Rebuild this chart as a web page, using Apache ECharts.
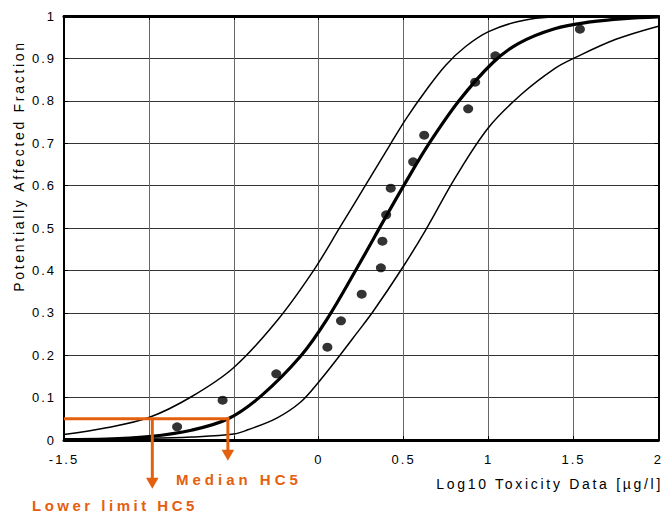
<!DOCTYPE html>
<html>
<head>
<meta charset="utf-8">
<script src="https://cdn.jsdelivr.net/npm/echarts@6/dist/echarts.min.js"></script>
<style>
  html, body { margin: 0; padding: 0; background: #fff; }
  #main { width: 665px; height: 513px; }
</style>
</head>
<body>
<div id="main"></div>
<script>
// ---- data ----
const medianX = [-1.5, -1.25, -1, -0.75, -0.533, -0.339, -0.106, 0.049, 0.243, 0.379, 0.515, 0.651, 0.826, 1.02, 1.175, 1.389, 1.6, 1.8, 2];
const medianY = [0.001, 0.002, 0.008, 0.023, 0.05, 0.104, 0.198, 0.285, 0.418, 0.515, 0.61, 0.70, 0.80, 0.888, 0.935, 0.97, 0.986, 0.994, 0.998];

const upperX = [-1.5, -1.25, -1, -0.75, -0.5, -0.242, -0.03, 0.127, 0.282, 0.418, 0.515, 0.632, 0.748, 0.865, 1.0, 1.175, 1.389, 1.7, 2];
const upperY = [0.013, 0.029, 0.053, 0.102, 0.171, 0.283, 0.40, 0.503, 0.605, 0.695, 0.758, 0.825, 0.884, 0.928, 0.963, 0.987, 0.998, 1.0, 1.0];

const lowerX = [-1.5, -1, -0.75, -0.5, -0.417, -0.25, -0.108, 0, 0.125, 0.224, 0.32, 0.496, 0.632, 0.806, 1.0, 1.195, 1.389, 1.5, 1.75, 2];
const lowerY = [0.002, 0.004, 0.007, 0.014, 0.024, 0.051, 0.089, 0.137, 0.2, 0.252, 0.303, 0.408, 0.497, 0.62, 0.737, 0.816, 0.876, 0.90, 0.945, 0.976];

const toxicityLog = [-0.834, -0.566, -0.25, 0.051, 0.131, 0.253, 0.366, 0.375, 0.397, 0.424, 0.556, 0.621, 0.880, 0.921, 1.040, 1.538];
const toxicityFraction = [0.031, 0.094, 0.156, 0.219, 0.281, 0.344, 0.406, 0.469, 0.531, 0.594, 0.656, 0.719, 0.781, 0.844, 0.906, 0.969];

const hcLevel = 0.05;
const medianHC5 = -0.535;
const lowerHC5 = -0.98;

const xTickLabels = ['-1.5', '0', '0.5', '1', '1.5', '2'];
const yTickLabels = ['0', '0.1', '0.2', '0.3', '0.4', '0.5', '0.6', '0.7', '0.8', '0.9', '1'];

const xTitle = 'Log10 Toxicity Data [µg/l]';
const yTitle = 'Potentially Affected Fraction';
const medianLabel = 'Median HC5';
const lowerLabel = 'Lower limit HC5';

// ---- chart ----
const ORANGE = '#E4600F';
const FONT = "'Liberation Sans', Arial, sans-serif";
const zip = (a, b) => a.map((v, i) => [v, b[i]]);

const chart = echarts.init(document.getElementById('main'), null, { renderer: 'svg' });

const option = {
  animation: false,
  backgroundColor: '#fff',
  grid: { left: 64, right: 0, top: 16, bottom: 73, containLabel: false },
  xAxis: [
    {
      type: 'value', min: -1.5, max: 2, interval: 0.5, position: 'bottom',
      axisLine: { show: true, onZero: false, lineStyle: { color: '#000', width: 3 } },
      axisTick: { show: true, inside: true, length: 4, lineStyle: { color: '#000', width: 1 } },
      axisLabel: {
        show: true, margin: 13, fontFamily: FONT, fontSize: 13, color: '#000',
        formatter: v => (xTickLabels.indexOf(String(v)) >= 0 ? String(v) : '')
      },
      splitLine: { show: true, lineStyle: { color: '#666', width: 1 } }
    },
    {
      type: 'value', min: -1.5, max: 2, interval: 0.5, position: 'top',
      axisLine: { show: true, onZero: false, lineStyle: { color: '#000', width: 3 } },
      axisTick: { show: true, inside: true, length: 4, lineStyle: { color: '#000', width: 1 } },
      axisLabel: { show: false },
      splitLine: { show: false }
    }
  ],
  yAxis: [
    {
      type: 'value', min: 0, max: 1, interval: 0.1, position: 'left',
      axisLine: { show: true, onZero: false, lineStyle: { color: '#000', width: 2 } },
      axisTick: { show: true, inside: true, length: 4, lineStyle: { color: '#000', width: 1 } },
      axisLabel: {
        show: true, margin: 8, fontFamily: FONT, fontSize: 13, color: '#000',
        padding: [10, 0, 0, 0],
        formatter: v => yTickLabels[Math.round(v * 10)]
      },
      splitLine: { show: true, lineStyle: { color: '#333', width: 1 } }
    },
    {
      type: 'value', min: 0, max: 1, interval: 0.1, position: 'right',
      axisLine: { show: true, onZero: false, lineStyle: { color: '#000', width: 2 } },
      axisTick: { show: true, inside: true, length: 4, lineStyle: { color: '#000', width: 1 } },
      axisLabel: { show: false },
      splitLine: { show: false }
    }
  ],
  series: [
    {
      name: 'Upper confidence', type: 'line', data: zip(upperX, upperY),
      smooth: 0.35, symbol: 'none', lineStyle: { color: '#000', width: 1.5 }, z: 3
    },
    {
      name: 'Lower confidence', type: 'line', data: zip(lowerX, lowerY),
      smooth: 0.35, symbol: 'none', lineStyle: { color: '#000', width: 1.5 }, z: 3
    },
    {
      name: 'Median', type: 'line', data: zip(medianX, medianY),
      smooth: 0.35, symbol: 'none', lineStyle: { color: '#000', width: 3.2 }, z: 4
    },
    {
      name: 'Toxicity data', type: 'scatter', data: zip(toxicityLog, toxicityFraction),
      symbol: 'circle', symbolSize: [10, 9], itemStyle: { color: '#000' }, z: 5
    },
    {
      name: 'HC5', type: 'custom', clip: false, z: 6,
      data: [[lowerHC5, medianHC5, hcLevel]],
      renderItem: function (params, api) {
        const lvl = api.value(2);
        const pL = api.coord([api.value(0), lvl]);
        const pM = api.coord([api.value(1), lvl]);
        const p0 = api.coord([-1.5, lvl]);
        const st = { stroke: ORANGE, lineWidth: 3, fill: 'none' };
        const fillSt = { fill: ORANGE, stroke: 'none' };
        const lBase = pL[1] + 59, lTip = pL[1] + 70;
        const mBase = pM[1] + 31, mTip = pM[1] + 42;
        return {
          type: 'group',
          children: [
            { type: 'line', shape: { x1: p0[0], y1: p0[1], x2: pM[0] + 1.5, y2: pM[1] }, style: st },
            { type: 'line', shape: { x1: pL[0], y1: pL[1], x2: pL[0], y2: lBase + 1 }, style: st },
            { type: 'polygon', shape: { points: [[pL[0] - 6.3, lBase], [pL[0] + 6.3, lBase], [pL[0], lTip]] }, style: fillSt },
            { type: 'line', shape: { x1: pM[0], y1: pM[1] - 1.5, x2: pM[0], y2: mBase + 1 }, style: st },
            { type: 'polygon', shape: { points: [[pM[0] - 6.3, mBase], [pM[0] + 6.3, mBase], [pM[0], mTip]] }, style: fillSt }
          ]
        };
      }
    }
  ],
  graphic: [
    { type: 'text', x: 663, y: 484, style: { text: xTitle, font: '14px ' + FONT, fill: '#000', textAlign: 'right', textVerticalAlign: 'middle' }, z: 10 },
    { type: 'text', x: 19, y: 166, rotation: Math.PI / 2, style: { text: yTitle, font: '14px ' + FONT, fill: '#000', textAlign: 'center', textVerticalAlign: 'middle' }, z: 10 },
    { type: 'text', x: 176, y: 479, style: { text: medianLabel, font: 'bold 15px ' + FONT, fill: ORANGE, textAlign: 'left', textVerticalAlign: 'middle' }, z: 10 },
    { type: 'text', x: 32, y: 505, style: { text: lowerLabel, font: 'bold 15px ' + FONT, fill: ORANGE, textAlign: 'left', textVerticalAlign: 'middle' }, z: 10 }
  ]
};

chart.setOption(option);

function spaceText() {
  document.querySelectorAll('#main text').forEach(t => {
    const s = t.textContent;
    let ls = 2;
    if (s === medianLabel) ls = 4;
    else if (s === lowerLabel) ls = 3.5;
    else if (s === xTitle || s === yTitle) ls = 2.7;
    t.style.letterSpacing = ls + 'px';
  });
}
spaceText();
requestAnimationFrame(spaceText);
setTimeout(spaceText, 50);
setTimeout(spaceText, 300);
chart.on('finished', spaceText);
</script>
</body>
</html>
